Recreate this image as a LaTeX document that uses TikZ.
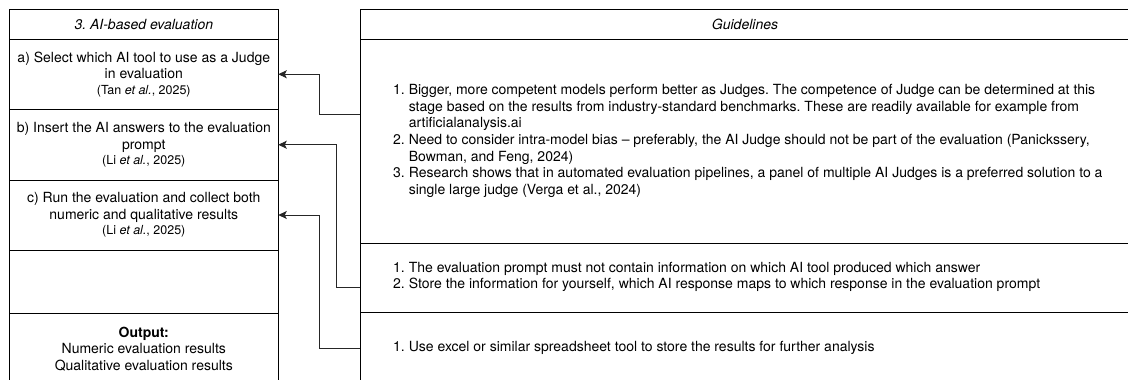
\documentclass[tikz,border=0pt]{standalone}
\usepackage{fontspec}
\setmainfont{TeX Gyre Heros}
\usetikzlibrary{arrows.meta}
\frenchspacing
\newcommand\citefont{\fontsize{12.5}{17}\selectfont}
\newcommand\numlbl[1]{\makebox[15.6pt][l]{#1}}
\newcommand\cont{\hspace*{15.6pt}}
\begin{document}
\begin{tikzpicture}[x=1pt,y=-1pt,
  font=\fontsize{14}{16.8}\selectfont,
  lcell/.style={draw=black,line width=0.9pt,anchor=north west,minimum width=269pt,
                inner sep=0pt,outer sep=0pt,align=center},
  rcell/.style={draw=black,line width=0.9pt,anchor=north west,minimum width=770pt,
                inner sep=0pt,outer sep=0pt},
  rtxt/.style={anchor=west,inner sep=0pt,align=left,font=\fontsize{14}{16.7}\selectfont},
  conn/.style={draw=black!85,line width=0.9pt,-{Stealth[length=8.5pt,width=8pt,inset=2pt]}}
]
\clip (0,0) rectangle (1128,380);
\path[use as bounding box] (0,0) rectangle (1128,380);

% left column: evaluation steps
\node[lcell,minimum height=29.7pt] (lhdr) at (9.3,9.3) {\itshape 3. AI-based evaluation};
\node[lcell,minimum height=70.5pt] (sa) at (9.3,39)
  {a) Select which AI tool to use as a Judge\\in evaluation\\[-1.5pt]{\citefont (Tan \textit{et al.}, 2025)}};
\node[lcell,minimum height=70.5pt] (sb) at (9.3,109.5)
  {b) Insert the AI answers to the evaluation\\prompt\\[-1.5pt]{\citefont (Li \textit{et al.}, 2025)}};
\node[lcell,minimum height=70pt] (sc) at (9.3,180)
  {c) Run the evaluation and collect both\\numeric and qualitative results\\[-1.5pt]{\citefont (Li \textit{et al.}, 2025)}};
\node[lcell,minimum height=63pt] (sd) at (9.3,250) {};
\node[lcell,minimum height=72pt] (out) at (9.3,313)
  {\textbf{Output:}\\Numeric evaluation results\\Qualitative evaluation results};

% right column: guidelines
\node[rcell,minimum height=29.7pt] (rhdr) at (360,9.3) {};
\node[font=\fontsize{14}{17}\selectfont\itshape] (rhdrt) at (745,24.5) {Guidelines};
\node[rcell,minimum height=204pt] (g1) at (360,39) {};
\node[rcell,minimum height=69.5pt] (g2) at (360,243) {};
\node[rcell,minimum height=72.5pt] (g3) at (360,312.5) {};

\node[rtxt] (g1t) at ([xshift=33pt]g1.west) {%
\numlbl{1.}Bigger, more competent models perform better as Judges. The competence of Judge can be determined at this\\
\cont stage based on the results from industry-standard benchmarks. These are readily available for example from\\
\cont artificialanalysis.ai\\
\numlbl{2.}Need to consider intra-model bias – preferably, the AI Judge should not be part of the evaluation (Panickssery,\\
\cont Bowman, and Feng, 2024)\\
\numlbl{3.}Research shows that in automated evaluation pipelines, a panel of multiple AI Judges is a preferred solution to a\\
\cont single large judge (Verga et al., 2024)};
\node[rtxt] (g2t) at ([xshift=33pt,yshift=1pt]g2.west) {%
\numlbl{1.}The evaluation prompt must not contain information on which AI tool produced which answer\\
\numlbl{2.}Store the information for yourself, which AI response maps to which response in the evaluation prompt};
\node[rtxt] (g3t) at ([xshift=33pt,yshift=1pt]g3.west) {%
\numlbl{1.}Use excel or similar spreadsheet tool to store the results for further analysis};

% connectors from guidelines to steps
\draw[conn] ([yshift=27pt]g1.west) -- ++(-40.7,0) |- (sa.east);
\draw[conn] ([yshift=-9.5pt]g2.west) -- ++(-23.3,0) |- (sb.east);
\draw[conn] (g3.west) -- ++(-40.7,0) |- (sc.east);
\end{tikzpicture}
\end{document}
